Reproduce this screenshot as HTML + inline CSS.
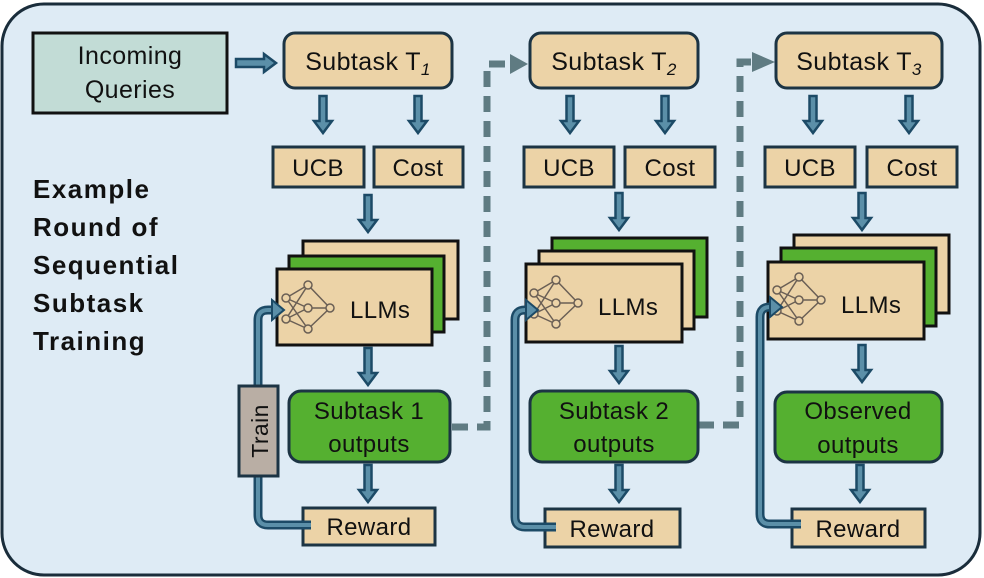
<!DOCTYPE html>
<html><head><meta charset="utf-8"><style>
body{margin:0;background:#fff}
svg{display:block}
text{font-family:"Liberation Sans",sans-serif;fill:#111;letter-spacing:0.4px}
</style></head><body>
<svg width="984" height="578" viewBox="0 0 984 578" xmlns="http://www.w3.org/2000/svg">
<defs>
<g id="dn"><polygon points="-3.5,0 3.5,0 3.5,25 9,25 0,37 -9,25 -3.5,25" fill="#5b8fa8" stroke="#1c4a66" stroke-width="2.5" stroke-linejoin="miter"/></g>
<g id="nn" fill="none" stroke="#6a5f55" stroke-width="1.5">
<line x1="0" y1="-10" x2="22" y2="-23"/><line x1="0" y1="-10" x2="22" y2="0"/><line x1="0" y1="-10" x2="22" y2="21"/>
<line x1="0" y1="11" x2="22" y2="-23"/><line x1="0" y1="11" x2="22" y2="0"/><line x1="0" y1="11" x2="22" y2="21"/>
<line x1="22" y1="-23" x2="44" y2="0"/><line x1="22" y1="0" x2="44" y2="0"/><line x1="22" y1="21" x2="44" y2="0"/>
<circle cx="0" cy="-10" r="4" fill="#ecd3a7"/><circle cx="0" cy="11" r="4" fill="#ecd3a7"/>
<circle cx="22" cy="-23" r="4" fill="#ecd3a7"/><circle cx="22" cy="0" r="4" fill="#ecd3a7"/><circle cx="22" cy="21" r="4" fill="#ecd3a7"/>
<circle cx="44" cy="0" r="4" fill="#ecd3a7"/>
</g>
</defs>
<rect x="2" y="4" width="978" height="571" rx="42" fill="#deebf5" stroke="#1a2d3b" stroke-width="3"/>

<!-- Incoming -->
<rect x="33" y="33" width="194" height="80" fill="#c2dcd6" stroke="#111" stroke-width="3"/>
<text x="130" y="64" font-size="25" text-anchor="middle">Incoming</text>
<text x="130" y="98" font-size="25" text-anchor="middle">Queries</text>
<polygon points="236,59 264,59 264,54 276,63 264,72 264,67 236,67" fill="#5b8fa8" stroke="#1c4a66" stroke-width="2.5"/>

<text font-size="26" font-weight="bold" style="letter-spacing:1.5px"><tspan x="33" y="198">Example</tspan><tspan x="33" y="236">Round of</tspan><tspan x="33" y="274">Sequential</tspan><tspan x="33" y="312">Subtask</tspan><tspan x="33" y="350">Training</tspan></text>

<!-- dashed connectors -->
<path d="M452,427 H487 V64 H512" fill="none" stroke="#5f7b82" stroke-width="7" stroke-dasharray="16 9"/>
<polygon points="510,54 528,64 510,74" fill="#5f7b82"/>
<path d="M698,425 H740 V62 H755" fill="none" stroke="#5f7b82" stroke-width="7" stroke-dasharray="16 9"/>
<polygon points="752,52 775,62 752,72" fill="#5f7b82"/>

<!-- Column 1 -->
<rect x="284" y="33" width="168" height="55" rx="11" fill="#ecd3a7" stroke="#1c3444" stroke-width="3"/>
<text x="368" y="70" font-size="25" text-anchor="middle">Subtask T<tspan font-size="17" font-style="italic" dy="5">1</tspan></text>
<use href="#dn" x="323" y="96"/><use href="#dn" x="418" y="96"/>
<rect x="273" y="147" width="91" height="40" fill="#ecd3a7" stroke="#1c3444" stroke-width="3"/>
<text x="318" y="176" font-size="24" text-anchor="middle">UCB</text>
<rect x="374" y="147" width="89" height="40" fill="#ecd3a7" stroke="#1c3444" stroke-width="3"/>
<text x="418" y="176" font-size="24" text-anchor="middle">Cost</text>
<use href="#dn" x="368" y="195"/>
<rect x="303" y="241" width="155" height="78" fill="#ecd3a7" stroke="#111" stroke-width="3"/>
<rect x="289" y="256" width="155" height="76" fill="#55b030" stroke="#111" stroke-width="3"/>
<rect x="277" y="269" width="155" height="76" fill="#ecd3a7" stroke="#111" stroke-width="3"/>
<use href="#nn" x="286" y="308"/>
<text x="350" y="318" font-size="24">LLMs</text>
<use href="#dn" x="368" y="348"/>
<rect x="289" y="391" width="161" height="71" rx="12" fill="#55b030" stroke="#1c3444" stroke-width="3"/>
<text x="369" y="419" font-size="24" text-anchor="middle">Subtask 1</text>
<text x="369" y="452" font-size="24" text-anchor="middle">outputs</text>
<use href="#dn" x="368" y="465"/>
<rect x="303" y="508" width="132" height="37" fill="#ecd3a7" stroke="#1c3444" stroke-width="3"/>
<text x="369" y="535" font-size="24" text-anchor="middle">Reward</text>
<path d="M311,525 H268 Q258,525 258,515 V320 Q258,310 268,310 H276" fill="none" stroke="#1c4a66" stroke-width="9"/>
<path d="M311,525 H268 Q258,525 258,515 V320 Q258,310 268,310 H276" fill="none" stroke="#5b8fa8" stroke-width="4"/>
<polygon points="272,300 284,310 272,320" fill="#5b8fa8" stroke="#1c4a66" stroke-width="2"/>
<rect x="239" y="386" width="39" height="90" fill="#b9aea4" stroke="#1c3444" stroke-width="3"/>
<text transform="translate(268,431) rotate(-90)" font-size="23" text-anchor="middle">Train</text>

<!-- Column 2 -->
<rect x="530" y="33" width="168" height="55" rx="11" fill="#ecd3a7" stroke="#1c3444" stroke-width="3"/>
<text x="614" y="70" font-size="25" text-anchor="middle">Subtask T<tspan font-size="17" font-style="italic" dy="5">2</tspan></text>
<use href="#dn" x="570" y="96"/><use href="#dn" x="665" y="96"/>
<rect x="524" y="147" width="90" height="40" fill="#ecd3a7" stroke="#1c3444" stroke-width="3"/>
<text x="569" y="176" font-size="24" text-anchor="middle">UCB</text>
<rect x="625" y="147" width="90" height="40" fill="#ecd3a7" stroke="#1c3444" stroke-width="3"/>
<text x="670" y="176" font-size="24" text-anchor="middle">Cost</text>
<use href="#dn" x="619" y="193"/>
<rect x="552" y="238" width="155" height="79" fill="#55b030" stroke="#111" stroke-width="3"/>
<rect x="539" y="251" width="155" height="78" fill="#ecd3a7" stroke="#111" stroke-width="3"/>
<rect x="526" y="264" width="156" height="78" fill="#ecd3a7" stroke="#111" stroke-width="3"/>
<use href="#nn" x="534" y="303"/>
<text x="598" y="315" font-size="24">LLMs</text>
<use href="#dn" x="619" y="346"/>
<rect x="530" y="391" width="168" height="71" rx="12" fill="#55b030" stroke="#1c3444" stroke-width="3"/>
<text x="614" y="419" font-size="24" text-anchor="middle">Subtask 2</text>
<text x="614" y="452" font-size="24" text-anchor="middle">outputs</text>
<use href="#dn" x="619" y="465"/>
<rect x="545" y="509" width="135" height="38" fill="#ecd3a7" stroke="#1c3444" stroke-width="3"/>
<text x="612" y="537" font-size="24" text-anchor="middle">Reward</text>
<path d="M556,527 H525 Q515,527 515,517 V320 Q515,310 525,310 H528" fill="none" stroke="#1c4a66" stroke-width="9"/>
<path d="M556,527 H525 Q515,527 515,517 V320 Q515,310 525,310 H528" fill="none" stroke="#5b8fa8" stroke-width="4"/>
<polygon points="526,300 538,310 526,320" fill="#5b8fa8" stroke="#1c4a66" stroke-width="2"/>

<!-- Column 3 -->
<rect x="776" y="33" width="166" height="55" rx="11" fill="#ecd3a7" stroke="#1c3444" stroke-width="3"/>
<text x="859" y="70" font-size="25" text-anchor="middle">Subtask T<tspan font-size="17" font-style="italic" dy="5">3</tspan></text>
<use href="#dn" x="813" y="96"/><use href="#dn" x="909" y="96"/>
<rect x="765" y="147" width="90" height="40" fill="#ecd3a7" stroke="#1c3444" stroke-width="3"/>
<text x="810" y="176" font-size="24" text-anchor="middle">UCB</text>
<rect x="867" y="147" width="90" height="40" fill="#ecd3a7" stroke="#1c3444" stroke-width="3"/>
<text x="912" y="176" font-size="24" text-anchor="middle">Cost</text>
<use href="#dn" x="862" y="193"/>
<rect x="794" y="235" width="155" height="78" fill="#ecd3a7" stroke="#111" stroke-width="3"/>
<rect x="781" y="248" width="155" height="78" fill="#55b030" stroke="#111" stroke-width="3"/>
<rect x="768" y="262" width="156" height="77" fill="#ecd3a7" stroke="#111" stroke-width="3"/>
<use href="#nn" x="777" y="300"/>
<text x="841" y="313" font-size="24">LLMs</text>
<use href="#dn" x="862" y="345"/>
<rect x="775" y="392" width="167" height="70" rx="12" fill="#55b030" stroke="#1c3444" stroke-width="3"/>
<text x="858" y="419" font-size="24" text-anchor="middle">Observed</text>
<text x="858" y="453" font-size="24" text-anchor="middle">outputs</text>
<use href="#dn" x="860" y="465"/>
<rect x="792" y="509" width="133" height="38" fill="#ecd3a7" stroke="#1c3444" stroke-width="3"/>
<text x="858" y="537" font-size="24" text-anchor="middle">Reward</text>
<path d="M801,524 H770 Q760,524 760,514 V317 Q760,307 770,307 H772" fill="none" stroke="#1c4a66" stroke-width="9"/>
<path d="M801,524 H770 Q760,524 760,514 V317 Q760,307 770,307 H772" fill="none" stroke="#5b8fa8" stroke-width="4"/>
<polygon points="770,297 782,307 770,317" fill="#5b8fa8" stroke="#1c4a66" stroke-width="2"/>
</svg>
</body></html>
